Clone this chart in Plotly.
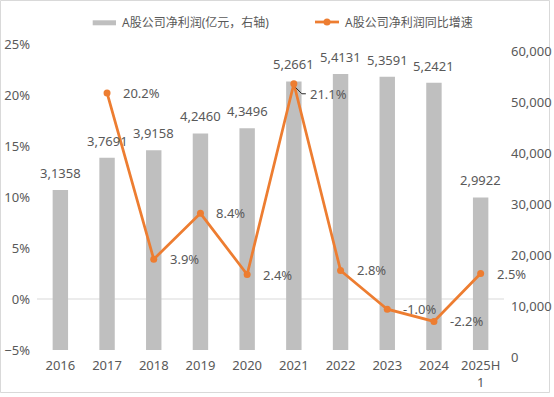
import plotly.graph_objects as go

# ---- data ----
categories = ["2016", "2017", "2018", "2019", "2020", "2021", "2022", "2023", "2024", "2025H1"]
tick_labels = ["2016", "2017", "2018", "2019", "2020", "2021", "2022", "2023", "2024", "2025H<br>1"]
net_profit = [31358, 37691, 39158, 42460, 43496, 52661, 54131, 53591, 52421, 29922]  # 亿元
growth = [None, 20.2, 3.9, 8.4, 2.4, 21.1, 2.8, -1.0, -2.2, 2.5]  # %
right_ticks = [0, 10000, 20000, 30000, 40000, 50000, 60000]
bar_name = "A股公司净利润(亿元，右轴)"
line_name = "A股公司净利润同比增速"

# ---- layout constants ----
W, H = 554, 397
L, R, T, B = 37, 50, 44, 47
PW, PH = W - L - R, H - T - B
FONT = "Noto Sans, Noto Sans CJK SC, sans-serif"
TXT = "#595959"
ORANGE = "#ED7D31"
GRAY = "#BFBFBF"
YMIN, YMAX = -5, 25


def px2x(px):
    return (px - L) / PW


def py2y(py):
    return (H - B - py) / PH


fig = go.Figure()
# bars on the base axis (right side), line on the overlay axis (left side) so it draws on top
fig.add_trace(go.Bar(
    x=categories, y=net_profit, name=bar_name, yaxis="y",
    marker=dict(color=GRAY, line=dict(width=0)), width=0.33,
    showlegend=False,
))
fig.add_trace(go.Scatter(
    x=categories, y=growth, name=line_name, yaxis="y2",
    mode="lines+markers", line=dict(color=ORANGE, width=2.75),
    marker=dict(color=ORANGE, size=7), connectgaps=False,
    showlegend=False,
))

annotations = []
# bar value labels (万 grouping as in source); x given as category index
for i, v in enumerate(net_profit):
    annotations.append(dict(
        x=i, y=v, xref="x", yref="y", text=f"{v // 10000},{v % 10000:04d}",
        showarrow=False, yanchor="middle", xanchor="center", yshift=17,
        font=dict(family=FONT, size=13, color=TXT),
    ))
# growth labels
for i, (c, g) in enumerate(zip(categories, growth)):
    if g is None:
        continue
    ys = -10 if c == "2021" else 0
    annotations.append(dict(
        x=i, y=g, xref="x", yref="y2", text=f"{g:.1f}%",
        showarrow=False, yanchor="middle", xanchor="left", xshift=14, yshift=ys,
        font=dict(family=FONT, size=13, color=TXT),
    ))
# right axis labels (drawn slightly lower, as in source)
for v in right_ticks:
    annotations.append(dict(
        x=1, y=v, xref="paper", yref="y", text=f"{v:,}",
        showarrow=False, xanchor="left", yanchor="middle", xshift=5, yshift=-7,
        font=dict(family=FONT, size=13, color=TXT),
    ))
# legend texts
annotations.append(dict(x=px2x(119.5), y=py2y(22), xref="paper", yref="paper", text=bar_name,
                        showarrow=False, xanchor="left", yanchor="middle",
                        font=dict(family=FONT, size=12, color=TXT)))
annotations.append(dict(x=px2x(343), y=py2y(22), xref="paper", yref="paper", text=line_name,
                        showarrow=False, xanchor="left", yanchor="middle",
                        font=dict(family=FONT, size=12, color=TXT)))

shapes = [
    # outer border
    dict(type="rect", xref="paper", yref="paper", x0=px2x(0.5), x1=px2x(549.5),
         y0=py2y(392.5), y1=py2y(0.5), line=dict(color="#D9D9D9", width=1), layer="below"),
    # 0% line, behind the bars
    dict(type="line", xref="paper", yref="y2", x0=0, x1=1, y0=0, y1=0,
         line=dict(color="#D9D9D9", width=1), layer="below"),
    # legend swatches
    dict(type="rect", xref="paper", yref="paper", x0=px2x(92.7), x1=px2x(116),
         y0=py2y(25.3), y1=py2y(20.3), fillcolor=GRAY, line=dict(width=0)),
    dict(type="line", xref="paper", yref="paper", x0=px2x(315), x1=px2x(339),
         y0=py2y(22), y1=py2y(22), line=dict(color=ORANGE, width=2.75)),
    dict(type="circle", xref="paper", yref="paper", x0=px2x(323.5), x1=px2x(330.5),
         y0=py2y(25.5), y1=py2y(18.5), fillcolor=ORANGE, line=dict(width=0)),
]
# leader line for 2021 label (relative to the data point)
i21 = categories.index("2021")
g21 = growth[i21]
cx = L + (i21 + 0.5) * PW / len(categories)
cy = T + (YMAX - g21) / (YMAX - YMIN) * PH
shapes.append(dict(type="path", xref="paper", yref="paper",
                   path=(f"M{px2x(cx + 2)},{py2y(cy + 4)} L{px2x(cx + 8)},{py2y(cy + 10)} "
                         f"L{px2x(cx + 12)},{py2y(cy + 10)}"),
                   line=dict(color="#262626", width=1)))

fig.update_layout(
    width=W, height=H,
    margin=dict(l=L, r=R, t=T, b=B, pad=0, autoexpand=False),
    paper_bgcolor="white", plot_bgcolor="white",
    font=dict(family=FONT, size=13, color=TXT),
    xaxis=dict(
        type="category", tickmode="array", tickvals=categories, ticktext=tick_labels,
        range=[-0.5, len(categories) - 0.5], automargin=False,
        showline=False, showgrid=False, ticks="", zeroline=False,
        tickfont=dict(family=FONT, size=13, color=TXT), ticklabelstandoff=6,
    ),
    yaxis=dict(
        range=[0, 60000], side="right", showgrid=False, automargin=False,
        zeroline=False, showline=False, showticklabels=False, ticks="",
    ),
    yaxis2=dict(
        range=[YMIN, YMAX], dtick=5, ticksuffix="%", overlaying="y", side="left",
        showgrid=False, automargin=False, zeroline=False,
        showline=False, ticks="", ticklabelstandoff=6,
        tickfont=dict(family=FONT, size=13, color=TXT),
    ),
    annotations=annotations,
    shapes=shapes,
    showlegend=False,
)

fig.write_html("out.html", config={"displayModeBar": False},
               post_script="document.body.style.margin='0';")
